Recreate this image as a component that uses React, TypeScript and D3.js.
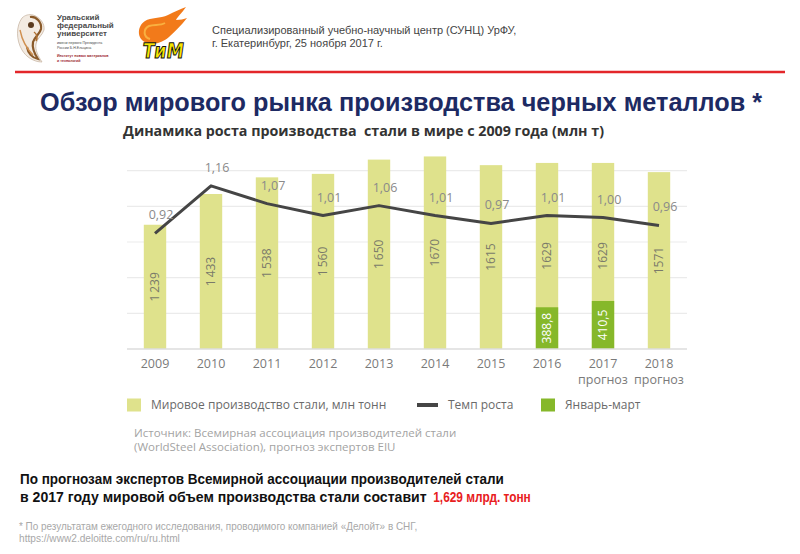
import React, { useEffect, useRef } from 'react';
import * as d3 from 'd3';

// Chart data
const years = ['2009', '2010', '2011', '2012', '2013', '2014', '2015', '2016', '2017', '2018'];
const yearNotes = ['', '', '', '', '', '', '', '', 'прогноз', 'прогноз'];
const production = [1239, 1433, 1538, 1560, 1650, 1670, 1615, 1629, 1629, 1571];
const productionLabels = ['1\u2009239', '1\u2009433', '1\u2009538', '1\u2009560', '1\u2009650', '1670', '1615', '1629', '1629', '1571'];
const growth = [0.92, 1.16, 1.07, 1.01, 1.06, 1.01, 0.97, 1.01, 1.0, 0.96];
const quarterYears = ['2016', '2017'];
const quarterValues = [388.8, 410.5];

const legendItems = [
  { label: 'Мировое производство стали, млн тонн', kind: 'rect', color: '#dfe28c' },
  { label: 'Темп роста', kind: 'line', color: '#454545' },
  { label: 'Январь-март', kind: 'rect', color: '#86b82a' },
];

const BAR = '#dfe28c';
const GREEN = '#86b82a';
const LINE = '#454545';
const chartFont = "'Open Sans', 'Noto Sans', sans-serif";
const narrowFont = "'Liberation Sans Narrow', 'Arial Narrow', 'Liberation Sans', Arial, sans-serif";
const sansFont = "'Liberation Sans', Arial, sans-serif";

const comma = (v: number, digits: number) => d3.format(`.${digits}f`)(v).replace('.', ',');

const App: React.FC = () => {
  const chartRef = useRef<SVGGElement>(null);

  useEffect(() => {
    if (!chartRef.current) return;
    const g = d3.select(chartRef.current);
    g.selectAll('*').remove();

    const left = 127;
    const right = 687;
    const top = 170.7;
    const bottom = 349;

    const x = d3.scaleBand<string>()
      .domain(years)
      .range([left, right])
      .paddingInner(0.6)
      .paddingOuter(0.3);
    const cx = (yr: string) => (x(yr) || 0) + x.bandwidth() / 2;

    // bars don't start at zero on the slide
    const yProd = d3.scaleLinear().domain([455, 1580]).range([bottom, top]);
    const yQuarter = d3.scaleLinear().domain([245, 500]).range([bottom, bottom - 74]);
    const yRate = d3.scaleLinear().domain([0.8, 1.2]).range([257.1, 177.9]);

    // gridlines
    const gridVals = d3.range(1, 6).map(i => 455 + i * 225);
    g.append('g')
      .selectAll('line')
      .data(gridVals)
      .join('line')
      .attr('x1', left)
      .attr('x2', right)
      .attr('y1', d => yProd(d))
      .attr('y2', d => yProd(d))
      .attr('stroke', '#ebebeb')
      .attr('stroke-width', 1.2);

    // production bars
    g.append('g')
      .selectAll('rect')
      .data(production)
      .join('rect')
      .attr('x', (_, i) => x(years[i]) || 0)
      .attr('width', x.bandwidth())
      .attr('y', d => yProd(d))
      .attr('height', d => bottom - yProd(d))
      .attr('fill', BAR);

    // january-march bars
    g.append('g')
      .selectAll('rect')
      .data(quarterValues)
      .join('rect')
      .attr('x', (_, i) => x(quarterYears[i]) || 0)
      .attr('width', x.bandwidth())
      .attr('y', d => yQuarter(d))
      .attr('height', d => bottom - yQuarter(d))
      .attr('fill', GREEN);

    // baseline
    g.append('line')
      .attr('x1', left)
      .attr('x2', right)
      .attr('y1', bottom)
      .attr('y2', bottom)
      .attr('stroke', '#dcdcdc')
      .attr('stroke-width', 1.5);

    // bar value labels (rotated)
    g.append('g')
      .selectAll('text')
      .data(production)
      .join('text')
      .attr('transform', (d, i) => `translate(${cx(years[i])},${(yProd(d) + bottom) / 2}) rotate(-90)`)
      .attr('text-anchor', 'middle')
      .attr('dy', '0.35em')
      .attr('font-family', chartFont)
      .attr('font-size', 12)
      .attr('fill', '#7a7a6a')
      .text((_, i) => productionLabels[i]);

    g.append('g')
      .selectAll('text')
      .data(quarterValues)
      .join('text')
      .attr('transform', (d, i) => `translate(${cx(quarterYears[i])},${(yQuarter(d) + bottom) / 2}) rotate(-90)`)
      .attr('text-anchor', 'middle')
      .attr('dy', '0.35em')
      .attr('font-family', chartFont)
      .attr('font-size', 12)
      .attr('fill', '#ffffff')
      .text(d => comma(d, 1));

    // growth rate line
    const line = d3.line<number>()
      .x((_, i) => cx(years[i]))
      .y(d => yRate(d));
    g.append('path')
      .datum(growth)
      .attr('fill', 'none')
      .attr('stroke', LINE)
      .attr('stroke-width', 3)
      .attr('stroke-linejoin', 'round')
      .attr('d', line);

    g.append('g')
      .selectAll('text')
      .data(growth)
      .join('text')
      .attr('x', (_, i) => cx(years[i]) + 6)
      .attr('y', d => yRate(d) - 14)
      .attr('text-anchor', 'middle')
      .attr('font-family', chartFont)
      .attr('font-size', 12.5)
      .attr('fill', '#8a8a8a')
      .text(d => comma(d, 2));

    // x axis labels
    const xl = g.append('g')
      .selectAll('text')
      .data(years)
      .join('text')
      .attr('x', d => cx(d))
      .attr('y', 368)
      .attr('text-anchor', 'middle')
      .attr('font-family', chartFont)
      .attr('font-size', 12.5)
      .attr('fill', '#7a7a7a');
    xl.append('tspan').text(d => d);
    xl.append('tspan')
      .attr('x', d => cx(d))
      .attr('dy', 16)
      .text((_, i) => yearNotes[i]);

    // legend
    const legendX = [127, 417, 541];
    const lg = g.append('g')
      .selectAll('g')
      .data(legendItems)
      .join('g')
      .attr('transform', (_, i) => `translate(${legendX[i]},405)`);
    lg.filter(d => d.kind === 'rect')
      .append('rect')
      .attr('x', 0)
      .attr('y', -6.5)
      .attr('width', 14)
      .attr('height', 13)
      .attr('fill', d => d.color);
    lg.filter(d => d.kind === 'line')
      .append('line')
      .attr('x1', 0)
      .attr('x2', 21)
      .attr('stroke', d => d.color)
      .attr('stroke-width', 4);
    lg.append('text')
      .attr('x', d => (d.kind === 'line' ? 31 : 24))
      .attr('dy', '0.35em')
      .attr('font-family', chartFont)
      .attr('font-size', 12)
      .attr('fill', '#6a6a6a')
      .text(d => d.label);
  }, []);

  return (
    <svg
      width={800}
      height={554}
      style={{ position: 'absolute', left: 0, top: 0, background: '#fff' }}
    >
      {/* UrFU emblem, rough */}
      <g>
        <path d="M22,18 C16,26 16,40 22,50 C26,57 34,62 42,62 C38,56 35,50 36,44 C37,38 42,36 44,30 C45,24 40,17 33,15 C29,14 25,15 22,18 Z" fill="#f3ebe2" stroke="#c9b8a6" strokeWidth={0.8} />
        <path d="M30,17 C36,16 42,22 41,29 C40,34 35,36 33,42 C32,47 34,53 38,59 C32,58 28,53 27,47" fill="none" stroke="#8a5a2a" strokeWidth={2.2} />
        <path d="M20,30 C22,40 26,48 33,55" fill="none" stroke="#d09050" strokeWidth={1.4} />
        <circle cx={31} cy={25} r={3} fill="#5a3a1e" />
        <path d="M34,32 C37,34 38,38 36,41" fill="none" stroke="#b07030" strokeWidth={1.5} />
      </g>
      <g fontFamily={sansFont} fill="#4a4a4a">
        <text x={57} y={20} fontSize={8} fontWeight="bold">Уральский</text>
        <text x={57} y={28} fontSize={8} fontWeight="bold">федеральный</text>
        <text x={57} y={36} fontSize={8} fontWeight="bold">университет</text>
        <text x={57} y={44} fontSize={3.6}>имени первого Президента</text>
        <text x={57} y={49} fontSize={3.6}>России Б.Н.Ельцина</text>
        <text x={57} y={57} fontSize={3.6} fill="#9a1c2c" fontWeight="bold">Институт новых материалов</text>
        <text x={57} y={62} fontSize={3.6} fill="#9a1c2c" fontWeight="bold">и технологий</text>
      </g>

      {/* TIM logo, rough */}
      <g>
        <path d="M148,43 C137,41 136,27 145,21 C151,17 160,19 168,15 C174,12 180,9 186,7 C182,13 178,16 176,20 C180,20 184,19 187,18 C181,26 175,31 169,37 C163,42 156,45 148,43 Z" fill="#f27a1a" />
        <path d="M150,39 C143,37 143,29 149,26 C154,24 160,26 165,23" fill="none" stroke="#f9b040" strokeWidth={2} />
        <text x={143} y={58} fontSize={21} fontWeight="bold" fontFamily="'DejaVu Sans', sans-serif" fill="#f7e600" stroke="#111" strokeWidth={1.1} textLength={41} lengthAdjust="spacingAndGlyphs" transform="skewX(-8) translate(7,0)">ТиМ</text>
      </g>

      {/* header */}
      <g fontFamily={sansFont} fontSize={11} fill="#444">
        <text x={212} y={34}>Специализированный учебно-научный центр (СУНЦ) УрФУ,</text>
        <text x={212} y={47}>г. Екатеринбург, 25 ноября 2017 г.</text>
      </g>
      <line x1={15} x2={785} y1={72} y2={72} stroke="#e3262a" strokeWidth={2.5} />

      <text x={40} y={111} fontFamily={narrowFont} fontWeight="bold" fontSize={26} fill="#1d2a63" textLength={722} lengthAdjust="spacingAndGlyphs">
        Обзор мирового рынка производства черных металлов *
      </text>
      <text x={123} y={136} fontFamily={chartFont} fontWeight="bold" fontSize={14.5} fill="#333" textLength={481} lengthAdjust="spacingAndGlyphs" style={{ whiteSpace: 'pre' }}>
        {'Динамика роста производства  стали в мире с 2009 года (млн т)'}
      </text>

      <g ref={chartRef} />

      <g fontFamily={chartFont} fontSize={11.5} fill="#a3a3a3">
        <text x={134} y={436.5}>Источник: Всемирная ассоциация производителей стали</text>
        <text x={134} y={450.5}>(WorldSteel Association), прогноз экспертов EIU</text>
      </g>

      {/* narrow bold text: horizontally squeezed Liberation Sans */}
      <g transform="translate(20,0) scale(0.84,1)" fontFamily={sansFont} fontWeight="bold" fontSize={14.5} fill="#111">
        <text x={0} y={484} textLength={576} lengthAdjust="spacingAndGlyphs">
          По прогнозам экспертов Всемирной ассоциации производителей стали
        </text>
        <text x={0} y={502} textLength={484} lengthAdjust="spacingAndGlyphs">
          в 2017 году мировой объем производства стали составит
        </text>
        <text x={492} y={502} textLength={116} lengthAdjust="spacingAndGlyphs" fill="#e8201e">
          1,629 млрд. тонн
        </text>
      </g>
      <g transform="translate(19,0) scale(0.86,1)" fontFamily={sansFont} fontSize={10.5} fill="#a8a8a8">
        <text x={0} y={530} textLength={463} lengthAdjust="spacingAndGlyphs">
          * По результатам ежегодного исследования, проводимого компанией «Делойт» в СНГ,
        </text>
        <text x={0} y={542} textLength={187} lengthAdjust="spacingAndGlyphs">https://www2.deloitte.com/ru/ru.html</text>
      </g>
    </svg>
  );
};

export default App;
